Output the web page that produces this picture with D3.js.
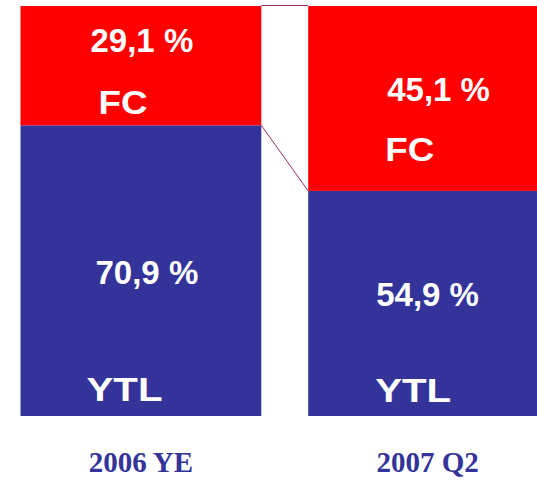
<!DOCTYPE html>
<html>
<head>
<meta charset="utf-8">
<script src="https://cdn.jsdelivr.net/npm/d3@7"></script>
<style>
  html, body { margin: 0; padding: 0; background: #ffffff; }
  .seg-label { font-family: "Liberation Sans", Arial, sans-serif; font-weight: bold; font-size: 33px; fill: #ffffff; }
  .seg-name { font-size: 34px; }
  .cat-label { font-family: "Liberation Serif", "Times New Roman", serif; font-weight: bold; font-size: 29px; fill: #333399; }
</style>
</head>
<body>
<div class="chart"></div>
<script>
const categories = ["2006 YE", "2007 Q2"];
const ytlShare = [70.9, 54.9];
const fcShare = [29.1, 45.1];
const seriesNames = ["YTL", "FC"];

const width = 537;
const height = 480;
const colors = { YTL: "#333399", FC: "#ff0000" };

// hand-tuned label spots inside each bar (px from bar left / segment top)
const labelLayout = [
  { fcPct: [70, 46], fcName: [78, 108], ytlPct: [75, 159], ytlName: [66, 276] },
  { fcPct: [79, 95], fcName: [77, 155], ytlPct: [68, 115], ytlName: [67, 211] },
];
// the FC / YTL words are drawn a little wide in the original
const nameWidth = { FC: 49, YTL: 76 };

const fmt = (v) => d3.format(".1f")(v).replace(".", ",") + " %";

const svg = d3
  .select(".chart")
  .append("svg")
  .attr("width", width)
  .attr("height", height);

const x = d3
  .scaleBand()
  .domain(categories)
  .range([20.5, 549])
  .paddingInner(0.163)
  .paddingOuter(0);

const y = d3.scaleLinear().domain([0, 100]).range([416, 6]);

const rows = categories.map((c, i) => ({
  cat: c,
  YTL: ytlShare[i],
  FC: fcShare[i],
}));

const stacked = d3.stack().keys(seriesNames)(rows);

// connector lines between the bars
const connectors = svg.append("g").attr("stroke", "#993366").attr("stroke-width", 1);
connectors
  .append("line")
  .attr("x1", x(categories[0]) + x.bandwidth())
  .attr("x2", x(categories[1]))
  .attr("y1", y(100) - 0.5)
  .attr("y2", y(100) - 0.5);
connectors
  .append("line")
  .attr("x1", x(categories[0]) + x.bandwidth())
  .attr("x2", x(categories[1]))
  .attr("y1", y(ytlShare[0]))
  .attr("y2", y(ytlShare[1]));

svg
  .append("g")
  .selectAll("g")
  .data(stacked)
  .join("g")
  .attr("fill", (d) => colors[d.key])
  .selectAll("rect")
  .data((d) => d)
  .join("rect")
  .attr("x", (d) => x(d.data.cat))
  .attr("y", (d) => y(d[1]))
  .attr("width", x.bandwidth())
  .attr("height", (d) => y(d[0]) - y(d[1]));

const labels = svg.append("g");
categories.forEach((c, i) => {
  const bx = x(c);
  const L = labelLayout[i];
  const fcTop = y(100);
  const ytlTop = y(ytlShare[i]);
  const items = [
    [fmt(fcShare[i]), bx + L.fcPct[0], fcTop + L.fcPct[1], false],
    ["FC", bx + L.fcName[0], fcTop + L.fcName[1], true],
    [fmt(ytlShare[i]), bx + L.ytlPct[0], ytlTop + L.ytlPct[1], false],
    ["YTL", bx + L.ytlName[0], ytlTop + L.ytlName[1], true],
  ];
  items.forEach(([t, tx, ty, isName]) => {
    const txt = labels
      .append("text")
      .attr("class", isName ? "seg-label seg-name" : "seg-label")
      .attr("x", tx)
      .attr("y", ty)
      .text(t);
    if (isName) {
      txt.attr("textLength", nameWidth[t]).attr("lengthAdjust", "spacingAndGlyphs");
    }
  });
});

svg
  .append("g")
  .selectAll("text")
  .data(categories)
  .join("text")
  .attr("class", "cat-label")
  .attr("x", (d) => x(d) + x.bandwidth() / 2 - (d === categories[0] ? 0 : 1))
  .attr("y", 472)
  .attr("text-anchor", "middle")
  .text((d) => d);
</script>
</body>
</html>
